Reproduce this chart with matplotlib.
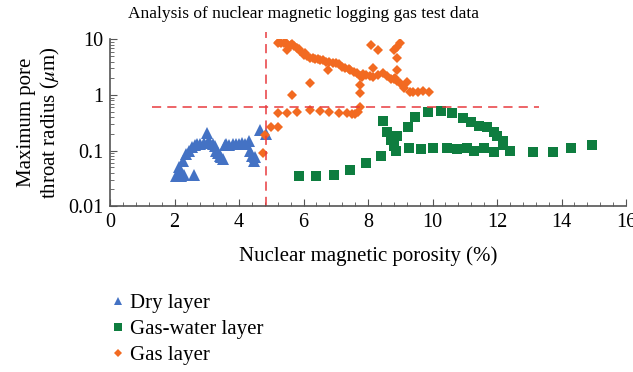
import numpy as np
import matplotlib
matplotlib.use("Agg")
import matplotlib.pyplot as plt
from matplotlib.ticker import FixedLocator, MultipleLocator, LogLocator, FuncFormatter

plt.rcParams['font.family'] = ['Liberation Serif', 'DejaVu Serif']
plt.rcParams['mathtext.fontset'] = 'stix'

# dry layer points
dry_x = [2.05, 2.1, 2.15, 2.2, 2.3, 2.6, 2.15, 2.25, 2.35, 2.45, 2.55, 2.65, 2.7, 2.8,
         2.9, 3.0, 3.05, 3.1, 3.2, 3.25, 3.3, 3.35, 3.4, 3.45, 3.5, 3.55, 3.6, 3.7,
         3.8, 3.9, 4.0, 4.1, 4.2, 4.3, 4.35, 4.4, 4.45, 4.5, 4.65, 4.85]
dry_y = [0.035, 0.035, 0.037, 0.035, 0.036, 0.036, 0.05, 0.065, 0.085, 0.1, 0.115, 0.125,
         0.13, 0.13, 0.135, 0.21, 0.14, 0.135, 0.13, 0.12, 0.1, 0.09, 0.08, 0.075, 0.07,
         0.125, 0.13, 0.125, 0.13, 0.13, 0.13, 0.135, 0.13, 0.15, 0.1, 0.08, 0.065, 0.075,
         0.23, 0.2]

# gas-water layer points
gw_x = [5.85, 6.4, 6.95, 7.45, 7.95, 8.4, 8.45, 8.6, 8.7, 8.8, 8.85, 8.9, 9.25, 9.45,
        9.85, 10.25, 10.6, 10.95, 11.2, 11.45, 11.7, 11.9, 12.0, 12.2,
        8.87, 9.27, 9.65, 10.0, 10.45, 10.75, 11.07, 11.3, 11.6, 11.9, 12.2, 12.4,
        13.1, 13.75, 14.3, 14.95]
gw_y = [0.035, 0.035, 0.036, 0.045, 0.06, 0.08, 0.34, 0.22, 0.155, 0.12, 0.18, 0.18,
        0.26, 0.4, 0.5, 0.52, 0.47, 0.39, 0.32, 0.28, 0.26, 0.22, 0.18, 0.15,
        0.1, 0.11, 0.105, 0.11, 0.11, 0.105, 0.11, 0.1, 0.11, 0.095, 0.125, 0.1,
        0.095, 0.095, 0.11, 0.126]

# gas layer points
gas_x = [5.2, 5.25, 5.3, 5.4, 5.45, 5.5, 5.6, 5.65, 5.7, 5.8, 5.85, 5.9, 6.0, 6.05,
         6.1, 6.2, 6.3, 6.35, 6.45, 6.5, 6.6, 6.7, 6.8, 6.9, 7.0, 7.1, 7.2, 7.3,
         7.4, 7.45, 7.55, 7.65, 7.75, 7.8, 7.85, 7.95, 8.05, 8.15, 8.3, 8.45, 8.6,
         8.7, 8.8, 8.85, 8.9, 9.0, 9.1, 9.2, 9.3, 9.4, 9.55, 9.7, 9.9,
         5.5, 8.1, 8.3, 8.8, 8.9, 9.0, 8.9, 8.15, 8.9, 6.75, 6.2, 5.65, 7.75, 7.75,
         5.2, 5.5, 5.8, 6.2, 6.5, 6.8, 7.1, 7.35, 7.5, 7.6, 7.7, 7.75,
         5.0, 5.2, 4.8, 4.75]
gas_y = [8.5, 8.9, 8.8, 8.6, 8.7, 8.3, 8.0, 8.2, 7.6, 7.0, 6.6, 6.3, 5.3, 5.6,
         5.0, 4.7, 4.6, 4.5, 4.4, 4.3, 4.2, 4.0, 3.9, 3.8, 3.7, 3.6, 3.2, 3.1,
         2.9, 2.8, 2.6, 2.5, 2.2, 2.1, 2.4, 2.3, 2.2, 2.1, 2.3, 2.5, 2.2,
         1.9, 1.9, 2.0, 1.8, 1.66, 1.34, 1.7, 1.13, 1.13, 1.15, 1.2, 1.13,
         6.5, 7.9, 6.5, 6.5, 7.2, 8.6, 4.6, 3.1, 2.8, 2.8, 1.65, 1.0, 1.09, 1.5,
         0.47, 0.47, 0.5, 0.53, 0.52, 0.5, 0.47, 0.48, 0.45, 0.46, 0.5, 0.6,
         0.27, 0.27, 0.19, 0.09]

cut_x = 4.85
cut_y = 0.6

fig = plt.figure(figsize=(6.33, 3.72), dpi=100)
ax = fig.add_axes([0.1738, 0.446, 0.8152, 0.448])

ax.plot(dry_x, dry_y, '^', color='#4472C4', markersize=8, markeredgewidth=0, label='Dry layer')
ax.plot(gw_x, gw_y, 's', color='#0E7D3F', markersize=7.5, markeredgewidth=0, label='Gas-water layer')
ax.plot(gas_x, gas_y, 'D', color='#F26A21', markersize=5.5, markeredgewidth=0, label='Gas layer')

# cut-off lines
ax.plot([cut_x, cut_x], [0.01, 13.5], '--', color='#E83A3F', lw=1.1, dashes=(6, 4), clip_on=False)
ax.plot([1.3, 13.3], [cut_y, cut_y], '--', color='#E83A3F', lw=1.1, dashes=(6, 4))

ax.set_yscale('log')
ax.set_xlim(0, 16)
ax.set_ylim(0.01, 10)
ax.xaxis.set_major_locator(MultipleLocator(2))
ax.xaxis.set_minor_locator(MultipleLocator(0.4))
ax.yaxis.set_major_locator(FixedLocator([0.01, 0.1, 1, 10]))
ax.yaxis.set_minor_locator(LogLocator(base=10, subs=np.arange(2, 10)))
ax.yaxis.set_major_formatter(FuncFormatter(lambda v, p: '%g' % v))

for s in ['top', 'right']:
    ax.spines[s].set_visible(False)
for s in ['left', 'bottom']:
    ax.spines[s].set_color('#555555')
    ax.spines[s].set_linewidth(1.2)
ax.tick_params(which='both', direction='in', color='#555555', labelsize=14.5, pad=5)
ax.tick_params(which='major', length=5)
ax.tick_params(which='minor', length=3)

fig.text(0.48, 0.962, 'Analysis of nuclear magnetic logging gas test data',
         fontsize=12.5, ha='center', va='center')
ax.set_xlabel('Nuclear magnetic porosity (%)', fontsize=15, labelpad=10)
ax.set_ylabel('Maximum pore\nthroat radius ($\\mu$m)', fontsize=15, labelpad=4)

fig.legend(loc='upper left', bbox_to_anchor=(0.16, 0.233), frameon=False, fontsize=15,
           markerscale=0.7, handlelength=0.8, handletextpad=0.2, labelspacing=0.3,
           borderaxespad=0)

fig.savefig('out.png', dpi=100)
